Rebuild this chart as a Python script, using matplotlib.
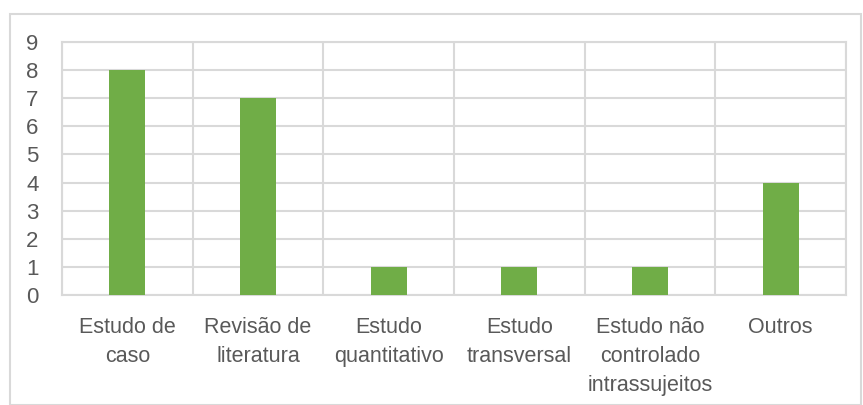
import matplotlib
matplotlib.use("Agg")
import matplotlib.pyplot as plt
from matplotlib.patches import Rectangle
import numpy as np

categories = ["Estudo de\ncaso", "Revisão de\nliteratura", "Estudo\nquantitativo",
              "Estudo\ntransversal", "Estudo não\ncontrolado\nintrassujeitos", "Outros"]
values = [8, 7, 1, 1, 1, 4]
yticks = list(range(0, 10))

plt.rcParams['font.family'] = ['Liberation Sans', 'DejaVu Sans']
grid_c = "#D9D9D9"
text_c = "#595959"
bar_c = "#70AD47"

W, H = 863, 405
fig = plt.figure(figsize=(W/100, H/100), dpi=100)
fig.patches.append(Rectangle((10/W, 0), (861-10)/W, (H-14)/H, transform=fig.transFigure,
                             fill=False, edgecolor=grid_c, linewidth=1.5, clip_on=False))
ax = fig.add_axes([62/W, 1-295/H, (846-62)/W, (295-42)/H])

x = np.arange(len(categories))
ax.bar(x, values, width=0.275, color=bar_c, zorder=3)
ax.set_xlim(-0.5, len(categories)-0.5)
ax.set_ylim(0, 9)
ax.set_yticks(yticks)
ax.set_yticklabels([str(v) for v in yticks])
ax.set_xticks(x)
ax.set_xticklabels(categories, linespacing=1.5)
ax.set_xticks(np.arange(-0.5, len(categories), 1.0), minor=True)
ax.grid(axis='y', which='major', color=grid_c, linewidth=1.5, zorder=0)
ax.grid(axis='x', which='minor', color=grid_c, linewidth=1.5, zorder=0)
ax.grid(axis='x', which='major', visible=False)
for s in ax.spines.values():
    s.set_color(grid_c)
    s.set_linewidth(1.5)
ax.tick_params(axis='both', which='both', length=0, labelsize=15.5, colors=text_c)
ax.tick_params(axis='y', pad=17, labelsize=16)
ax.tick_params(axis='x', pad=16)
for lab in ax.get_xticklabels():
    lab.set_verticalalignment('top')

fig.savefig("out.png", dpi=100)
